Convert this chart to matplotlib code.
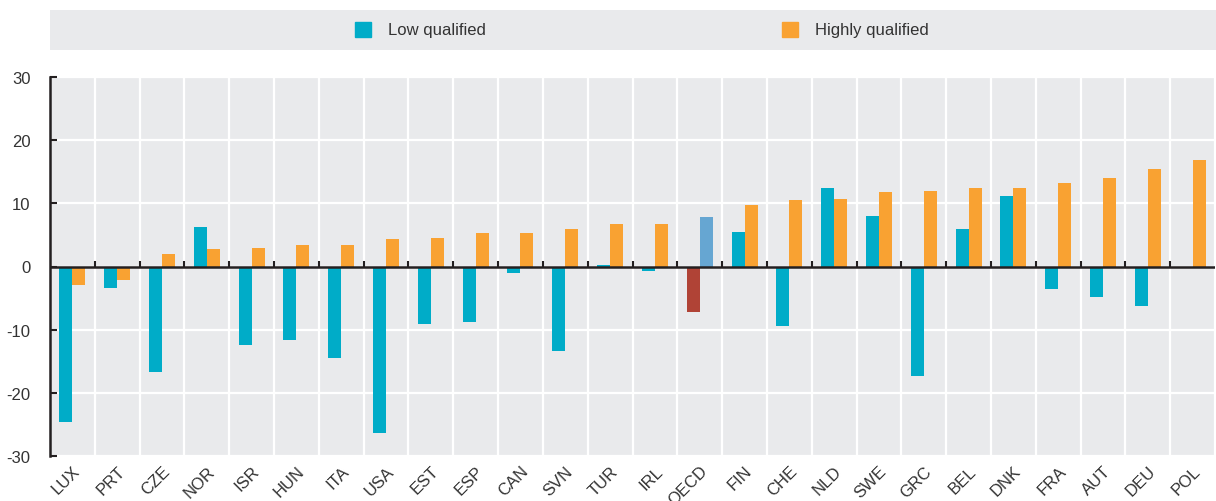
import numpy as np
import matplotlib
matplotlib.use("Agg")
import matplotlib.pyplot as plt
from matplotlib.patches import Rectangle

plt.rcParams['font.family'] = ['Liberation Sans Narrow', 'Liberation Sans', 'DejaVu Sans']

countries = ["LUX", "PRT", "CZE", "NOR", "ISR", "HUN", "ITA", "USA", "EST", "ESP",
             "CAN", "SVN", "TUR", "IRL", "OECD", "FIN", "CHE", "NLD", "SWE", "GRC",
             "BEL", "DNK", "FRA", "AUT", "DEU", "POL"]
low_qualified = [-24.6, -3.4, -16.7, 6.3, -12.4, -11.6, -14.5, -26.4, -9.1, -8.8,
                 -1.05, -13.3, 0.2, -0.7, -7.2, 5.5, -9.4, 12.5, 8.0, -17.3,
                 6.0, 11.2, -3.5, -4.8, -6.2, 0.0]
highly_qualified = [-2.9, -2.1, 2.05, 2.8, 3.0, 3.4, 3.4, 4.3, 4.5, 5.3,
                    5.3, 6.0, 6.7, 6.8, 7.9, 9.8, 10.5, 10.7, 11.8, 12.0,
                    12.4, 12.4, 13.2, 14.0, 15.5, 16.8]
series_names = ["Low qualified", "Highly qualified"]

CYAN = "#00ACC8"
ORANGE = "#F9A232"
OECD_LOW = "#B04336"
OECD_HIGH = "#66A6D2"
BG = "#E9EAEC"
DARK = "#231F20"
TEXT = "#333333"

x = np.arange(len(countries))
w = 0.29

low_colors = [OECD_LOW if c == "OECD" else CYAN for c in countries]
high_colors = [OECD_HIGH if c == "OECD" else ORANGE for c in countries]

fig = plt.figure(figsize=(12.16, 5.02), dpi=100)
ax = fig.add_axes([50 / 1216, 1 - 457 / 502, 1165 / 1216, 379 / 502])
ax.set_facecolor(BG)

ax.bar(x - w / 2, low_qualified, w, color=low_colors, zorder=3)
ax.bar(x + w / 2, highly_qualified, w, color=high_colors, zorder=3)

ax.set_xlim(-0.5, len(countries) - 0.5)
ax.set_ylim(-30, 30)
ax.set_yticks([-30, -20, -10, 0, 10, 20, 30])
ax.set_yticklabels(["-30", "-20", "-10", "0", "10", "20", "30"])

# gridlines: horizontal at y ticks, vertical at category boundaries
ax.set_xticks(x)
ax.set_xticklabels(countries, rotation=45, ha="right", rotation_mode="anchor")
ax.set_xticks(np.arange(-0.5, len(countries), 1), minor=True)
ax.grid(axis="y", which="major", color="white", linewidth=1.6, zorder=1)
ax.grid(axis="x", which="minor", color="white", linewidth=1.6, zorder=1)
ax.tick_params(axis="x", which="both", length=0, labelsize=12, colors=TEXT, pad=5)
ax.tick_params(axis="y", direction="in", length=5, width=1.5, color=DARK,
               labelsize=12, labelcolor=TEXT, pad=14)

for s in ["top", "right", "bottom"]:
    ax.spines[s].set_visible(False)
ax.spines["left"].set_color(DARK)
ax.spines["left"].set_linewidth(1.8)
ax.set_axisbelow(True)

# zero line with small ticks at category boundaries
ax.axhline(0, color=DARK, linewidth=1.8, zorder=4)
bounds = np.arange(0.5, len(countries) - 1, 1)
ax.vlines(bounds, 0, 0.8, color=DARK, linewidth=1.5, zorder=4)

# legend band
lax = fig.add_axes([50 / 1216, 1 - 51 / 502, 1166 / 1216, 40 / 502])
lax.set_facecolor(BG)
lax.set_xlim(50, 1216)
lax.set_ylim(51, 11)
lax.set_xticks([])
lax.set_yticks([])
for s in lax.spines.values():
    s.set_visible(False)
for x0, color, name in zip([355, 782], [CYAN, ORANGE], series_names):
    lax.add_patch(Rectangle((x0, 23), 16, 15, color=color))
    lax.text(x0 + 33, 30.5, name, va="center", ha="left", fontsize=12, color=TEXT)

fig.savefig("out.png", dpi=100)
